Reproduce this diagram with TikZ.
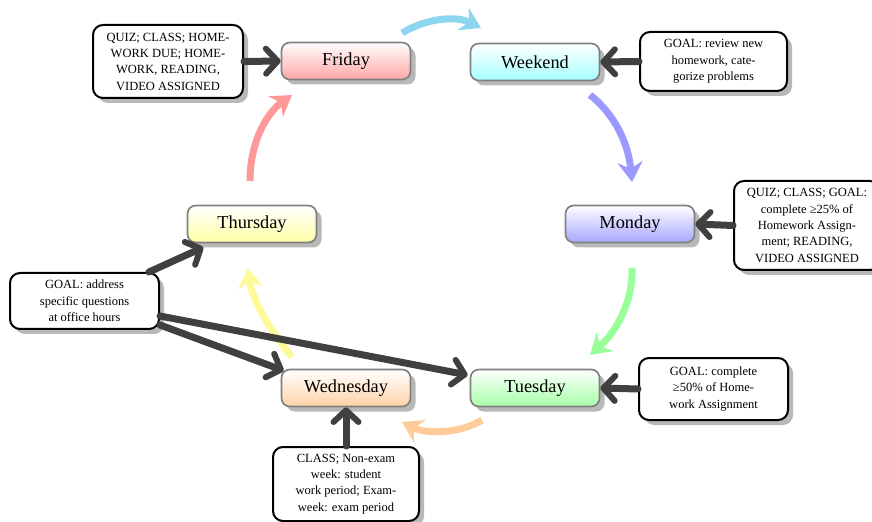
\documentclass[tikz,border=0pt]{standalone}
\usepackage{fontspec}
\setmainfont{Liberation Serif}
\usetikzlibrary{arrows.meta,shadows}
\definecolor{skyarrow}{RGB}{140,214,240}
\definecolor{darkarrow}{RGB}{64,64,64}
\begin{document}
\begin{tikzpicture}[x=0.6pt,y=-0.6pt,
  day/.style={draw=gray, line width=1pt, rounded corners=5pt,
    minimum width=77.4pt, minimum height=22.2pt, inner sep=0pt,
    font=\fontsize{11}{13}\selectfont, top color=white,
    drop shadow={shadow xshift=3pt, shadow yshift=-3pt, fill=black!28, opacity=1}},
  note/.style={draw=black, line width=1.2pt, rounded corners=6pt, fill=white,
    align=center, inner sep=0pt, font=\fontsize{7.5}{9.8}\selectfont,
    drop shadow={shadow xshift=3pt, shadow yshift=-3pt, fill=black!28, opacity=1}},
  cyc/.style={line width=4.2pt, -{Stealth[length=12pt,width=15pt,inset=4pt]}},
  add/.style={line width=4.2pt, draw=darkarrow, line cap=round,
    -{Straight Barb[length=7pt,width=15pt,round,line width=3.6pt]}}
]
\useasboundingbox (0,0) rectangle (872,522);

% day nodes
\node[day, bottom color=red!35]    (fri) at (346,61)  {Friday};
\node[day, bottom color=cyan!35]   (wkd) at (535,62)  {Weekend};
\node[day, bottom color=blue!35]   (mon) at (630,224) {Monday};
\node[day, bottom color=green!35]  (tue) at (535,388) {Tuesday};
\node[day, bottom color=orange!35] (wed) at (346,388) {Wednesday};
\node[day, bottom color=yellow!35] (thu) at (252,224) {Thursday};

% notes
\node[note, minimum width=90pt, minimum height=43.8pt] (nfri) at (168,61.5)
  {QUIZ; CLASS; HOME-\\WORK DUE; HOME-\\WORK, READING,\\VIDEO ASSIGNED};
\node[note, minimum width=88.2pt, minimum height=35.4pt] (nwkd) at (713.5,61.5)
  {GOAL: review new\\homework, cate-\\gorize problems};
\node[note, minimum width=87.6pt, minimum height=53.4pt] (nmon) at (807,225.5)
  {QUIZ; CLASS; GOAL:\\complete ≥25\% of\\Homework Assign-\\ment; READING,\\VIDEO ASSIGNED};
\node[note, minimum width=89.4pt, minimum height=37.2pt] (ntue) at (713.5,389)
  {GOAL: complete\\≥50\% of Home-\\work Assignment};
\node[note, minimum width=87.6pt, minimum height=44.4pt] (nwed) at (346,484)
  {CLASS; Non-exam\\week: student\\work period; Exam-\\week: exam period};
\node[note, minimum width=89.4pt, minimum height=33.6pt] (noff) at (84.5,301)
  {GOAL: address\\specific questions\\at office hours};

% cycle arrows
\coordinate (c1s) at (402,33);  \coordinate (c1e) at (481,28);
\coordinate (c2s) at (590,95);  \coordinate (c2e) at (632,182);
\coordinate (c3s) at (632,268); \coordinate (c3e) at (590,355);
\coordinate (c4s) at (482,420); \coordinate (c4e) at (402,422);
\coordinate (c5s) at (292,357); \coordinate (c5e) at (248,268);
\coordinate (c6s) at (250,181); \coordinate (c6e) at (292,95);
\draw[cyc, skyarrow]   (c1s) .. controls (425,19) and (455,15) .. (c1e);
\draw[cyc, blue!40]    (c2s) .. controls (612,112) and (628,140) .. (c2e);
\draw[cyc, green!40]   (c3s) .. controls (633,300) and (618,330) .. (c3e);
\draw[cyc, orange!40]  (c4s) .. controls (460,434) and (425,434) .. (c4e);
\draw[cyc, yellow!40]  (c5s) .. controls (270,330) and (252,300) .. (c5e);
\draw[cyc, red!40]     (c6s) .. controls (250,140) and (268,112) .. (c6e);

% additional arrows
\draw[add] (nfri.east) -- (fri.west);
\draw[add] (nwkd.west) -- (wkd.east);
\draw[add] (nmon.west) -- (mon.east);
\draw[add] (ntue.west) -- (tue.east);
\draw[add] (nwed.north) -- (wed.south);
\draw[add] ([xshift=-6.6pt]noff.north east) -- ([xshift=10pt,yshift=-2.4pt]thu.south west);
\draw[add] ([yshift=-9pt]noff.east) -- ([xshift=-1.2pt,yshift=7.8pt]tue.west);
\draw[add] ([yshift=-14.4pt]noff.east) -- ([xshift=1.8pt,yshift=-1.2pt]wed.north west);
\end{tikzpicture}
\end{document}
